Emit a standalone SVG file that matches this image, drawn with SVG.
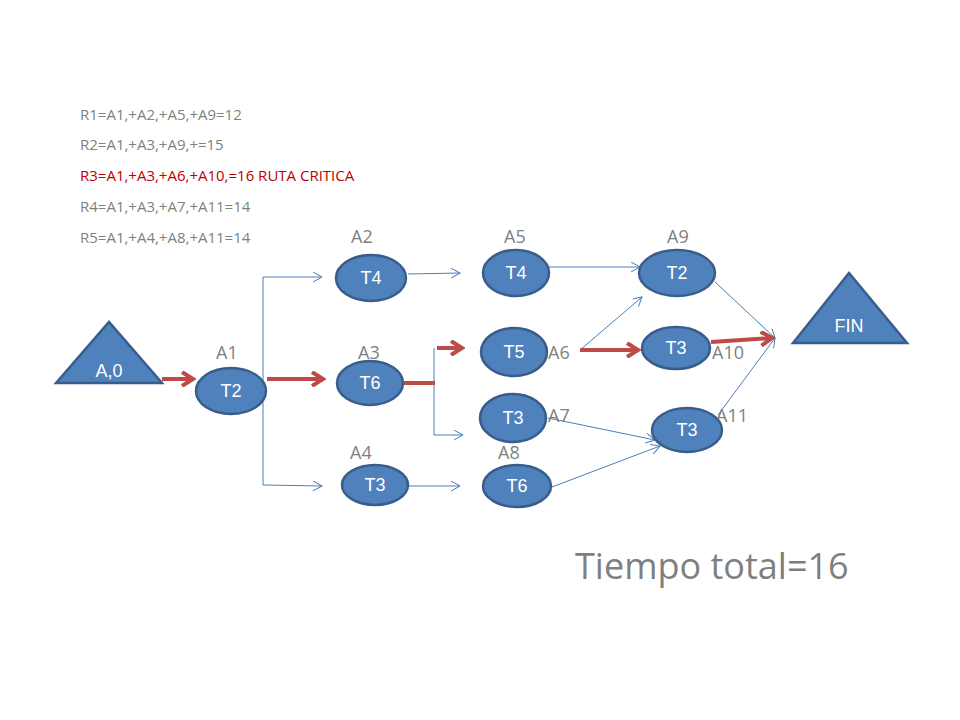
<svg xmlns="http://www.w3.org/2000/svg" width="960" height="720" viewBox="0 0 960 720">
<style>
.n{fill:#4f81bd;stroke:#385d8a;stroke-width:2.5}
.t{font-family:"Liberation Sans",Calibri,sans-serif;font-size:18px;fill:#fff;text-anchor:middle}
.l{font-family:"Open Sans","Liberation Sans",sans-serif;font-size:18px;fill:#7f7f7f}
.r{font-family:"Open Sans","Liberation Sans",sans-serif;font-size:15px;fill:#7f7f7f}
.b{fill:none;stroke:#4a7ebb;stroke-width:1}
.c{fill:none;stroke:#be4b48;stroke-width:4}
</style>
<defs>
<marker id="ab" markerWidth="12" markerHeight="12" refX="10" refY="5" orient="auto" markerUnits="userSpaceOnUse"><path d="M1,0 L10,5 L1,10" fill="none" stroke="#4a7ebb" stroke-width="1"/></marker>
<marker id="ar" markerWidth="16" markerHeight="16" refX="13" refY="8" orient="auto" markerUnits="userSpaceOnUse"><path d="M2,1 L13,8 L2,15" fill="none" stroke="#be4b48" stroke-width="4"/></marker>
</defs>
<rect width="960" height="720" fill="#fff"/>
<g id="routes">
<text class="r" x="80" y="120">R1=A1,+A2,+A5,+A9=12</text>
<text class="r" x="80" y="150">R2=A1,+A3,+A9,+=15</text>
<text class="r" x="80" y="181" fill="#c00000" style="fill:#c00000">R3=A1,+A3,+A6,+A10,=16  RUTA CRITICA</text>
<text class="r" x="80" y="212">R4=A1,+A3,+A7,+A11=14</text>
<text class="r" x="80" y="243">R5=A1,+A4,+A8,+A11=14</text>
</g>
<g id="connectors">
<path class="b" d="M263,277 V485"/>
<path class="b" d="M263,277 H322" marker-end="url(#ab)"/>
<path class="b" d="M263,485 L322,486" marker-end="url(#ab)"/>
<path class="b" d="M408,274 L460,273" marker-end="url(#ab)"/>
<path class="b" d="M408,486 H460" marker-end="url(#ab)"/>
<path class="b" d="M434,348 V435 H463" marker-end="url(#ab)"/>
<path class="b" d="M549,267 H640" marker-end="url(#ab)"/>
<path class="b" d="M580,350 L642,297" marker-end="url(#ab)"/>
<path class="b" d="M715,282 L775,338" marker-end="url(#ab)"/>
<path class="b" d="M718,415 L775,338" marker-end="url(#ab)"/>
<path class="b" d="M548,418 L655,440" marker-end="url(#ab)"/>
<path class="b" d="M552,487 L660,446" marker-end="url(#ab)"/>
<path class="c" d="M162,379 H193" marker-end="url(#ar)"/>
<path class="c" d="M267,379 H323" marker-end="url(#ar)"/>
<path class="c" d="M404,383 H435"/>
<path class="c" d="M437,348 H462" marker-end="url(#ar)"/>
<path class="c" d="M580,350 H638" marker-end="url(#ar)"/>
<path class="c" d="M711,342 L772,338" marker-end="url(#ar)"/>
</g>
<g id="labels">
<text class="l" x="216" y="359">A1</text>
<text class="l" x="358" y="359">A3</text>
<text class="l" x="350" y="459">A4</text>
<text class="l" x="351" y="243">A2</text>
<text class="l" x="504" y="243">A5</text>
<text class="l" x="667" y="243">A9</text>
<text class="l" x="548" y="359">A6</text>
<text class="l" x="548" y="422">A7</text>
<text class="l" x="498" y="459">A8</text>
<text class="l" x="712" y="359">A10</text>
<text class="l" x="716" y="422">A11</text>
</g>
<g id="start"><polygon class="n" points="56,383 109,322 162,383"/><text class="t" x="109" y="377">A,0</text></g>
<g id="fin"><polygon class="n" points="793,343 849,273 907,343"/><text class="t" x="849" y="332">FIN</text></g>
<g id="n1"><ellipse class="n" cx="231" cy="391" rx="35" ry="23"/><text class="t" x="231" y="397">T2</text></g>
<g id="n2"><ellipse class="n" cx="371" cy="278" rx="35" ry="23"/><text class="t" x="371" y="284">T4</text></g>
<g id="n3"><ellipse class="n" cx="370" cy="383" rx="33" ry="22"/><text class="t" x="370" y="389">T6</text></g>
<g id="n4"><ellipse class="n" cx="375" cy="485" rx="33" ry="20"/><text class="t" x="375" y="491">T3</text></g>
<g id="n5"><ellipse class="n" cx="516" cy="273" rx="33" ry="23"/><text class="t" x="516" y="279">T4</text></g>
<g id="n6"><ellipse class="n" cx="514" cy="352" rx="33" ry="24"/><text class="t" x="514" y="358">T5</text></g>
<g id="n7"><ellipse class="n" cx="513" cy="418" rx="33" ry="24"/><text class="t" x="513" y="424">T3</text></g>
<g id="n8"><ellipse class="n" cx="517" cy="486" rx="34" ry="21"/><text class="t" x="517" y="492">T6</text></g>
<g id="n9"><ellipse class="n" cx="677" cy="273" rx="38" ry="23"/><text class="t" x="677" y="279">T2</text></g>
<g id="n10"><ellipse class="n" cx="676" cy="348" rx="34" ry="21"/><text class="t" x="676" y="354">T3</text></g>
<g id="n11"><ellipse class="n" cx="687" cy="430" rx="35" ry="22"/><text class="t" x="687" y="436">T3</text></g>
<text x="575" y="579" font-family="Open Sans, Liberation Sans, sans-serif" font-size="36" fill="#7f7f7f">Tiempo total=16</text>
</svg>
